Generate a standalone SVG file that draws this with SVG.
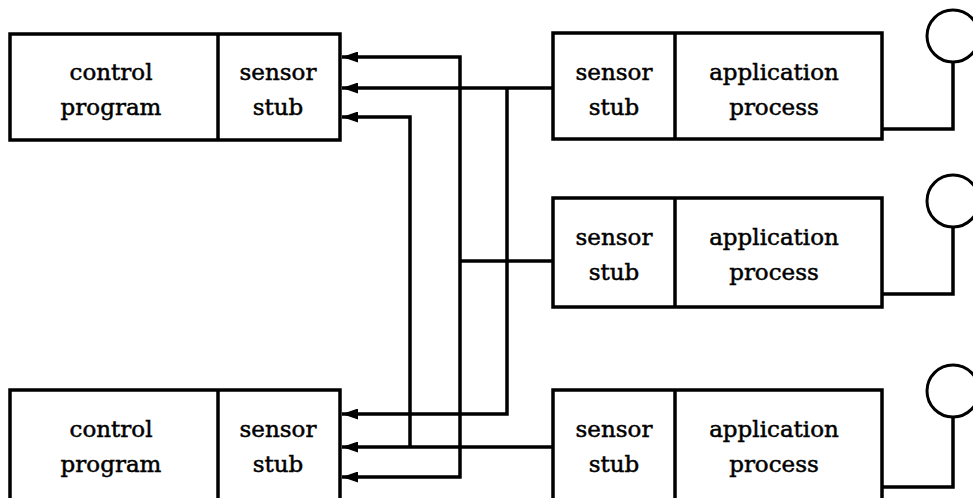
<svg xmlns="http://www.w3.org/2000/svg" width="973" height="498" viewBox="0 0 973 498">
<style>
.box{fill:none;stroke:#000;stroke-width:3.5}
.div{stroke:#000;stroke-width:3.5}
.t{font-family:"DejaVu Serif","Liberation Serif",serif;font-size:23px;fill:#000;stroke:#000;stroke-width:0.5;text-anchor:middle}
.c{fill:none;stroke:#000;stroke-width:3.5;stroke-linejoin:miter}
.a{fill:none;stroke:#000;stroke-width:3.5;marker-end:url(#ah)}
.circ{fill:#fff;stroke:#000;stroke-width:3}
</style>
<defs>
<marker id="ah" viewBox="0 0 16 11" refX="16" refY="5.5" markerWidth="16" markerHeight="11" markerUnits="userSpaceOnUse" orient="auto">
<path d="M0,0 L16,5.5 L0,11 Z" fill="#000"/>
</marker>
</defs>
<rect width="973" height="498" fill="#fff"/>
<g id="connectors">
<path class="a" d="M553,88 H342"/>
<path class="a" d="M507,88 V414 H342"/>
<path class="c" d="M553,261 H460"/>
<path class="a" d="M460,261 V57 H342"/>
<path class="a" d="M460,261 V477 H342"/>
<path class="a" d="M553,447 H342"/>
<path class="a" d="M410,447 V117 H342"/>
<path class="c" d="M882,129 H953 V62"/>
<path class="c" d="M882,294 H953 V227"/>
<path class="c" d="M882,487 H953 V417"/>
</g>
<g id="ctrl1">
<rect class="box" x="10" y="34" width="330" height="106"/>
<line class="div" x1="218" y1="34" x2="218" y2="140"/>
<text class="t" x="111" y="80">control</text>
<text class="t" x="111" y="115">program</text>
<text class="t" x="278" y="80">sensor</text>
<text class="t" x="278" y="115">stub</text>
</g>
<g id="ctrl2">
<rect class="box" x="10" y="390" width="330" height="110"/>
<line class="div" x1="218" y1="390" x2="218" y2="500"/>
<text class="t" x="111" y="437">control</text>
<text class="t" x="111" y="472">program</text>
<text class="t" x="278" y="437">sensor</text>
<text class="t" x="278" y="472">stub</text>
</g>
<g id="app1">
<rect class="box" x="553" y="33" width="329" height="106"/>
<line class="div" x1="675" y1="33" x2="675" y2="139"/>
<text class="t" x="614" y="80">sensor</text>
<text class="t" x="614" y="115">stub</text>
<text class="t" x="774" y="80">application</text>
<text class="t" x="774" y="115">process</text>
</g>
<g id="app2">
<rect class="box" x="553" y="198" width="329" height="109"/>
<line class="div" x1="675" y1="198" x2="675" y2="307"/>
<text class="t" x="614" y="245">sensor</text>
<text class="t" x="614" y="280">stub</text>
<text class="t" x="774" y="245">application</text>
<text class="t" x="774" y="280">process</text>
</g>
<g id="app3">
<rect class="box" x="553" y="390" width="329" height="110"/>
<line class="div" x1="675" y1="390" x2="675" y2="500"/>
<text class="t" x="614" y="437">sensor</text>
<text class="t" x="614" y="472">stub</text>
<text class="t" x="774" y="437">application</text>
<text class="t" x="774" y="472">process</text>
</g>
<g id="sensor1"><circle class="circ" cx="953" cy="36" r="26"/></g>
<g id="sensor2"><circle class="circ" cx="953" cy="201" r="26"/></g>
<g id="sensor3"><circle class="circ" cx="953" cy="391" r="26"/></g>
</svg>
